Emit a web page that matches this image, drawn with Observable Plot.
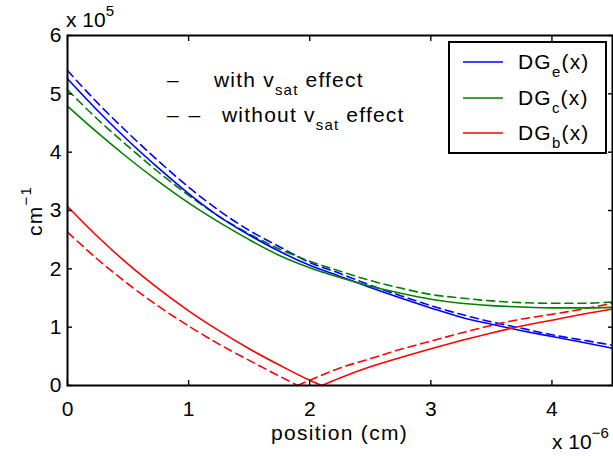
<!DOCTYPE html>
<html><head><meta charset="utf-8">
<script src="https://cdn.jsdelivr.net/npm/d3@7"></script>
<script src="https://cdn.jsdelivr.net/npm/@observablehq/plot@0.6"></script>
<style>html,body{margin:0;padding:0;background:#fff;} svg{display:block}</style>
</head><body><div id="chart"></div>
<script>
// positions in units of 1e-6 cm, values in units of 1e5 cm^-1
const xs = [0,0.25,0.5,0.75,1.0,1.25,1.5,1.75,2.0,2.25,2.5,2.75,3.0,3.25,3.5,3.75,4.0,4.25,4.5];
const dgeVsat   = [5.26,4.71,4.20,3.73,3.29,2.90,2.58,2.30,2.06,1.87,1.68,1.50,1.33,1.17,1.05,0.94,0.84,0.74,0.64];
const dgeNoVsat = [5.40,4.84,4.33,3.85,3.40,3.00,2.66,2.38,2.11,1.92,1.72,1.54,1.37,1.22,1.09,0.98,0.87,0.78,0.69];
const dgcVsat   = [4.79,4.33,3.90,3.50,3.13,2.80,2.50,2.23,2.02,1.85,1.70,1.58,1.48,1.41,1.37,1.345,1.33,1.33,1.34];
const dgcNoVsat = [5.07,4.56,4.10,3.66,3.26,2.90,2.60,2.34,2.13,1.96,1.80,1.67,1.56,1.50,1.45,1.42,1.41,1.41,1.43];
const redX      = [0,0.25,0.5,0.75,1.0,1.25,1.5,1.75,2.0,2.1,2.25,2.5,2.75,3.0,3.25,3.5,3.75,4.0,4.25,4.5];
const dgbVsat   = [3.07,2.55,2.08,1.66,1.28,0.94,0.63,0.35,0.09,0,0.13,0.32,0.48,0.63,0.77,0.90,1.02,1.12,1.22,1.31];
const redDashX  = [0,0.25,0.5,0.75,1.0,1.25,1.5,1.75,1.9,2.0,2.25,2.5,2.75,3.0,3.25,3.5,3.75,4.0,4.25,4.5];
const dgbNoVsat = [2.63,2.16,1.74,1.36,1.02,0.71,0.43,0.16,0,0.09,0.30,0.46,0.62,0.76,0.90,1.03,1.14,1.22,1.31,1.41];
const xTicks = [0,1,2,3,4];
const yTicks = [0,1,2,3,4,5,6];
const legendNames = ["e","c","b"];
const legendColors = ["#0000ff","#008000","#ff0000"];

// build rows; split V-shaped curves at their minimum into two segments
function rows(x, y) {
  let iMin = 0;
  y.forEach((v, i) => { if (v < y[iMin]) iMin = i; });
  const out = [];
  x.forEach((xv, i) => {
    if (i <= iMin) out.push({x: xv, y: y[i], seg: 0});
    if (i >= iMin) out.push({x: xv, y: y[i], seg: 1});
  });
  return out;
}
const series = [
  {data: rows(xs, dgeNoVsat), color: "#0000ff", dash: "8,5"},
  {data: rows(xs, dgcNoVsat), color: "#008000", dash: "8,5"},
  {data: rows(redDashX, dgbNoVsat), color: "#ff0000", dash: "8,5"},
  {data: rows(xs, dgeVsat), color: "#0000ff", dash: null},
  {data: rows(xs, dgcVsat), color: "#008000", dash: null},
  {data: rows(redX, dgbVsat), color: "#ff0000", dash: null}
];

const FONT = "'Liberation Sans', Arial, Helvetica, sans-serif";
const chart = Plot.plot({
  width: 613, height: 457,
  marginLeft: 67, marginRight: 1, marginTop: 35, marginBottom: 72,
  style: {fontFamily: FONT, fontSize: "21px", background: "white", color: "black"},
  x: {domain: [0, 4.5], label: null},
  y: {domain: [0, 6], label: null},
  marks: [
    ...series.map(s => Plot.line(s.data, {x: "x", y: "y", z: "seg", stroke: s.color, strokeWidth: 1.6,
      strokeDasharray: s.dash, curve: "monotone-x"})),
    Plot.axisX({anchor: "bottom", ticks: xTicks, tickSize: -5, tickPadding: 21, label: null, strokeWidth: 1.4, tickFormat: d => String(d)}),
    Plot.axisX({anchor: "top", ticks: xTicks, tickSize: -5, tickFormat: () => "", label: null, strokeWidth: 1.4}),
    Plot.axisY({anchor: "left", ticks: yTicks, tickSize: -5, tickPadding: 11, label: null, strokeWidth: 1.4, tickFormat: d => String(d)}),
    Plot.axisY({anchor: "right", ticks: yTicks, tickSize: -5, tickFormat: () => "", label: null, strokeWidth: 1.4}),
    Plot.frame({stroke: "black", strokeWidth: 2})
  ]
});
document.getElementById("chart").appendChild(chart);

const svg = d3.select(chart);
const g = svg.append("g").attr("font-family", FONT).attr("font-size", 21).attr("fill", "black")
  .attr("text-anchor", "start");

function supText(parent, x, y, base, sup, opts = {}) {
  const t = parent.append("text").attr("x", x).attr("y", y).attr("letter-spacing", opts.ls ?? 1.2)
    .attr("text-anchor", opts.anchor || "start");
  if (opts.transform) t.attr("transform", opts.transform).attr("x", 0).attr("y", 0);
  t.append("tspan").text(base);
  t.append("tspan").attr("dy", -11).attr("font-size", 15).text(sup);
  return t;
}
supText(g, 66, 27, "x 10", "5", {ls: 0});
supText(g, 552, 449, "x 10", "\u22126", {ls: 0});
supText(g, 0, 0, "cm", "\u22121", {anchor: "middle", transform: "translate(42,211) rotate(-90)"});
g.append("text").attr("x", 339.5).attr("y", 440).attr("text-anchor", "middle").attr("letter-spacing", 1.3).text("position (cm)");

function subText(parent, x, y, pre, sub, post) {
  const t = parent.append("text").attr("x", x).attr("y", y).attr("letter-spacing", 1.2).attr("text-anchor", "start");
  t.append("tspan").text(pre);
  t.append("tspan").attr("dy", 8).attr("font-size", 15).text(sub);
  t.append("tspan").attr("dy", -8).text(post);
  return t;
}
// annotation
g.append("text").attr("x", 167).attr("y", 87).attr("text-anchor", "start").text("\u2013");
subText(g, 214, 87, "with v", "sat", " effect");
g.append("text").attr("x", 167).attr("y", 122).attr("text-anchor", "start").attr("letter-spacing", 2).text("\u2013 \u2013");
subText(g, 222, 122, "without v", "sat", " effect");

// legend
const lg = g.append("g");
lg.append("rect").attr("x", 449).attr("y", 42).attr("width", 157).attr("height", 111)
  .attr("fill", "white").attr("stroke", "black").attr("stroke-width", 2);
const ly = [62, 98, 133];
legendNames.forEach((n, i) => {
  lg.append("line").attr("x1", 463).attr("x2", 503).attr("y1", ly[i]).attr("y2", ly[i])
    .attr("stroke", legendColors[i]).attr("stroke-width", 1.6);
  subText(lg, 518, ly[i] + 7, "DG", n, "(x)");
});
</script></body></html>
